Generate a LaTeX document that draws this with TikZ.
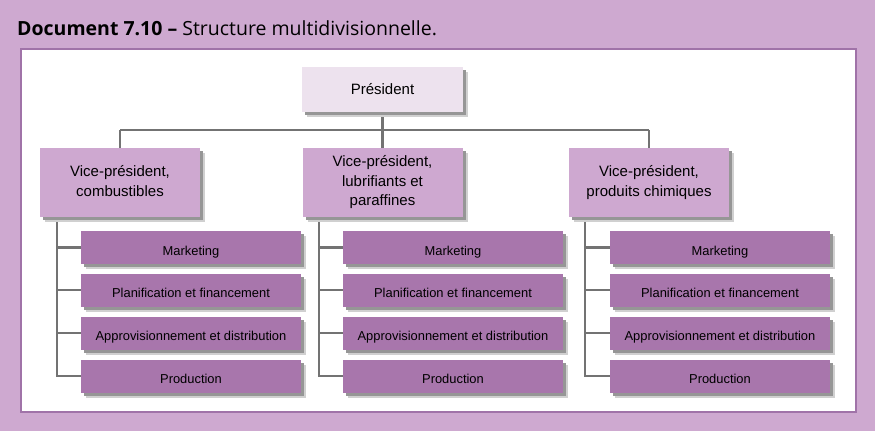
\documentclass[tikz,border=0pt]{standalone}
\usepackage{fontspec}
\setmainfont{Liberation Sans}
\newfontfamily\titlefont{Open Sans}
\definecolor{bgpurple}{RGB}{206,169,208}
\definecolor{panelline}{RGB}{160,115,168}
\definecolor{prescol}{RGB}{237,226,238}
\definecolor{vpcol}{RGB}{206,168,208}
\definecolor{subcol}{RGB}{168,118,172}
\definecolor{linkcol}{RGB}{115,115,115}
\definecolor{shadowcol}{RGB}{150,150,150}
\pgfdeclarelayer{bglayer}
\pgfdeclarelayer{linklayer}
\pgfsetlayers{bglayer,linklayer,main}
\tikzset{
  shadowbox/.style={draw=none, inner sep=0pt, text=black, align=center,
    preaction={fill=shadowcol!45, transform canvas={xshift=5pt, yshift=-5pt}},
    preaction={fill=shadowcol, transform canvas={xshift=3pt, yshift=-3pt}}},
  presbox/.style={shadowbox, fill=prescol, minimum width=161pt, minimum height=45pt, font=\fontsize{15}{19}\selectfont},
  vpbox/.style={shadowbox, fill=vpcol, minimum width=160pt, minimum height=69pt, font=\fontsize{15}{19.5}\selectfont},
  subbox/.style={shadowbox, fill=subcol, minimum width=220pt, minimum height=33pt, text height=15pt, text depth=0pt, font=\fontsize{12.9}{15}\selectfont},
  link/.style={draw=linkcol, line width=2.2pt}
}
\begin{document}
\begin{tikzpicture}[x=1pt,y=-1pt]
\useasboundingbox (0,0) rectangle (875,431);
\begin{pgfonlayer}{bglayer}
\fill[bgpurple] (0,0) rectangle (875,431);
\draw[panelline, line width=2pt, fill=white] (21,49) rectangle (856,412);
\end{pgfonlayer}
\node[anchor=base west, inner sep=0pt, font=\titlefont\fontsize{19.5}{22}\selectfont] (title) at (17,35)
  {\textbf{Document 7.10 –} Structure multidivisionnelle.};

\coordinate (hL) at (120,130);
\coordinate (hR) at (649,130);

\node[presbox] (pres) at (382.5,89.5) {Président};
\node[vpbox] (vp1) at (120,182.5) {\raisebox{-2pt}{\begin{tabular}{@{}c@{}}Vice-président,\\combustibles\end{tabular}}};
\node[vpbox] (vp2) at (382.5,182.5) {\raisebox{-2pt}{\begin{tabular}{@{}c@{}}Vice-président,\\lubrifiants et\\paraffines\end{tabular}}};
\node[vpbox] (vp3) at (649,182.5) {\raisebox{-2pt}{\begin{tabular}{@{}c@{}}Vice-président,\\produits chimiques\end{tabular}}};

\foreach \c/\L in {1/81,2/343,3/610}{
  \node[subbox] (m\c) at (\L+110,247.5) {Marketing};
  \node[subbox] (p\c) at (\L+110,290) {Planification et financement};
  \node[subbox] (a\c) at (\L+110,333) {Approvisionnement et distribution};
  \node[subbox] (d\c) at (\L+110,376) {Production};
}

\begin{pgfonlayer}{linklayer}
\draw[link] (pres.south) -- (vp2.north);
\draw[link] (hL) -- (hR);
\draw[link] (hL) -- (vp1.north);
\draw[link] (hR) -- (vp3.north);
\foreach \c/\X in {1/57,2/319,3/585}{
  \draw[link] (vp\c.south -| \X,0) |- (d\c.west);
  \draw[link] (m\c.west -| \X,0) -- (m\c.west);
  \draw[link] (p\c.west -| \X,0) -- (p\c.west);
  \draw[link] (a\c.west -| \X,0) -- (a\c.west);
}
\end{pgfonlayer}
\end{tikzpicture}
\end{document}
